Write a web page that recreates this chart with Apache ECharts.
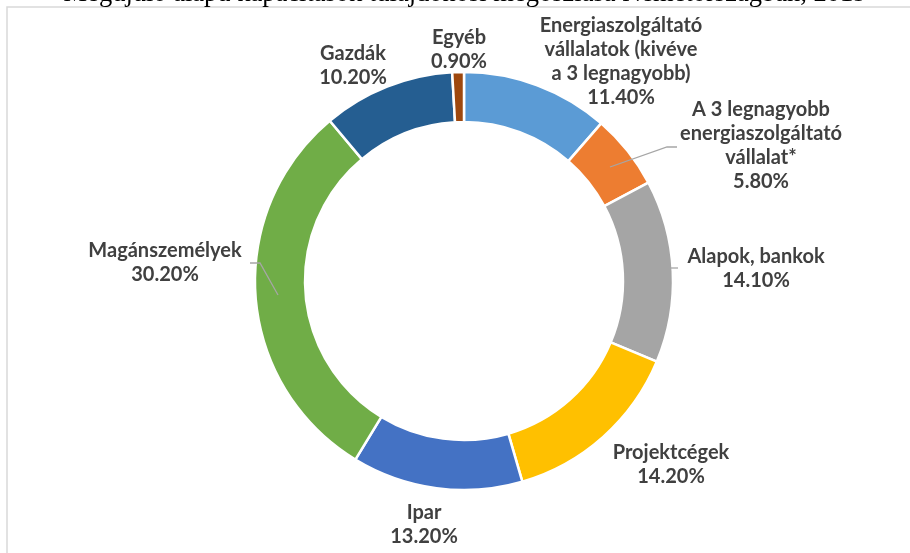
<!DOCTYPE html>
<html>
<head>
<meta charset="utf-8">
<script src="https://cdn.jsdelivr.net/npm/echarts@6/dist/echarts.min.js"></script>
<style>html,body{margin:0;padding:0;background:#fff;}#c{width:910px;height:553px;}</style>
</head>
<body>
<div id="c"></div>
<script>
// ---- data ----
const titleText = 'Megújuló alapú kapacitások tulajdonosi megoszlása Németországban, 2019';
const categories = [
  'Energiaszolgáltató\nvállalatok (kivéve\na 3 legnagyobb)',
  'A 3 legnagyobb\nenergiaszolgáltató\nvállalat*',
  'Alapok, bankok',
  'Projektcégek',
  'Ipar',
  'Magánszemélyek',
  'Gazdák',
  'Egyéb'
];
const shares = [11.4, 5.8, 14.1, 14.2, 13.2, 30.2, 10.2, 0.9];

// ---- style ----
const colors = ['#5B9BD5', '#ED7D31', '#A5A5A5', '#FFC000', '#4472C4', '#70AD47', '#255E91', '#9E480E'];
const labelPos = [[621, 62], [761, 146], [756, 269], [671, 465], [424, 525], [165, 263], [353, 66], [459, 50]];
const leaderLines = [
  [[610, 167], [667, 147], [677, 147]],
  [[670, 268], [678, 268]],
  [[278, 295], [260, 263], [250, 263]]
];

const chart = echarts.init(document.getElementById('c'), null, {renderer: 'canvas'});
chart.setOption({
  animation: false,
  backgroundColor: '#fff',
  graphic: [
    {type: 'rect', shape: {x: 7, y: 7, width: 1000, height: 1000}, style: {fill: 'none', stroke: '#d9d9d9', lineWidth: 1.5}, z: 0},
    {type: 'text', style: {x: 465, y: 8, text: titleText, textAlign: 'center', textVerticalAlign: 'bottom',
      font: '26.5px "Liberation Serif", "Times New Roman", serif', fill: '#000'}, z: 10}
  ].concat(leaderLines.map(pts => ({
    type: 'polyline', shape: {points: pts}, style: {stroke: '#a6a6a6', lineWidth: 1.3, fill: 'none'}, z: 100
  }))),
  series: [{
    type: 'pie',
    center: [464, 281],
    radius: [159, 209],
    startAngle: 90,
    clockwise: true,
    avoidLabelOverlap: false,
    itemStyle: {borderColor: '#fff', borderWidth: 2.5},
    label: {
      show: true,
      color: '#404040',
      fontFamily: 'Lato, "Open Sans", sans-serif',
      fontWeight: 'bold',
      fontSize: 20,
      lineHeight: 24,
      align: 'center',
      formatter: p => p.name + '\n' + p.value.toFixed(2) + '%'
    },
    labelLine: {show: false},
    labelLayout: function (params) {
      const i = params.dataIndex;
      return {x: labelPos[i][0], y: labelPos[i][1], align: 'center', verticalAlign: 'middle'};
    },
    data: categories.map((c, i) => ({
      name: c,
      value: shares[i],
      itemStyle: {color: colors[i]}
    }))
  }]
});
</script>
</body>
</html>
